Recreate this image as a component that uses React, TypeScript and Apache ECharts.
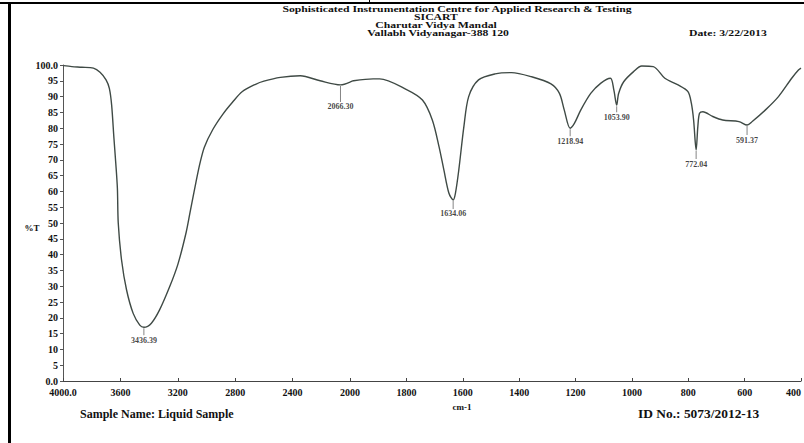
import React, { useEffect, useRef } from "react";
import * as echarts from "echarts";

// Spectrum (wavenumber cm-1 -> %T)
const wavenumbers = [
  3996, 3938, 3869, 3788, 3742, 3700, 3677, 3661, 3645, 3633, 3621, 3615, 3592, 3557, 3511, 3465, 3436,
  3384, 3327, 3257, 3199, 3142, 3114, 3073, 3045, 3015, 2957, 2888, 2819, 2750, 2658, 2600, 2485, 2346, 2208,
  2066, 2000, 1988, 1918, 1895, 1801, 1743, 1708, 1684, 1667, 1649, 1634, 1626, 1614, 1596, 1579, 1544,
  1485, 1427, 1357, 1287, 1257, 1240, 1219, 1204, 1181, 1146, 1111, 1076, 1064, 1054, 1047, 1029, 994,
  965, 924, 883, 836, 801, 789, 781, 772, 766, 760, 748, 713, 678, 620, 591, 573, 526, 480, 433, 409, 400,
];
const transmittance = [
  99.8, 99.5, 99.3, 99.0, 97.7, 95.3, 92.6, 87.3, 76.8, 69.4, 61, 50, 38.3, 28.8, 21.4, 17.7, 17.0,
  18.3, 22.5, 29.8, 37, 47, 53.5, 63, 69, 74, 79.5, 84.3, 88.2, 91.6, 93.9, 94.9, 96.1, 96.6, 95.0,
  93.7, 94.6, 95.0, 95.6, 95.6, 92.3, 88.9, 82.6, 74.1, 66.8, 59.4, 57.3, 59.4, 66.8, 80.5, 90, 95.3,
  97.2, 97.6, 96.3, 94, 91, 85.8, 80, 81.5, 85.8, 91, 94.2, 95.8, 92.1, 87.3, 91, 94.7, 97.9,
  99.7, 99.5, 95.8, 93.7, 91.6, 87.9, 82.6, 73.1, 80.5, 84.7, 85.2, 83.7, 82.6, 82.1, 81, 82.1, 85.8, 90, 95.8, 98.4, 99,
];

const peakWavenumbers = [3436.39, 2066.3, 1634.06, 1218.94, 1053.9, 772.04, 591.37];
const peakTransmittance = [17.0, 93.7, 57.3, 80.0, 87.3, 73.1, 81.0];
const peakTickLength = [7, 16, 8, 7, 6, 8, 9];

const titleLines = [
  "Sophisticated Instrumentation Centre for Applied Research & Testing",
  "SICART",
  "Charutar Vidya Mandal",
  "Vallabh Vidyanagar-388 120",
];
const dateText = "Date: 3/22/2013";
const sampleText = "Sample Name: Liquid Sample";
const idText = "ID No.: 5073/2012-13";

const FONT = "'Liberation Serif', 'Times New Roman', serif";
const INK = "#111";
const CURVE = "#3f4a45";

export default function App() {
  const ref = useRef<HTMLDivElement>(null);

  useEffect(() => {
    if (!ref.current) return;
    const chart = echarts.init(ref.current, undefined, { renderer: "svg" });

    const pts = wavenumbers.map((w, i) => [w, transmittance[i]]);
    const high = pts.filter((p) => p[0] >= 2000);
    const low = pts.filter((p) => p[0] <= 2000);

    const labelStyle = {
      show: true,
      position: "bottom",
      distance: 1,
      fontFamily: FONT,
      fontWeight: "bold",
      fontSize: 8,
      color: INK,
    };

    const peakItems = (inHigh: boolean) =>
      peakWavenumbers
        .map((w, i) => ({ w, i }))
        .filter(({ w }) => (inHigh ? w > 2000 : w <= 2000))
        .map(({ w, i }) => ({
          value: [w, peakTransmittance[i]],
          symbolSize: [1, peakTickLength[i]],
          symbolOffset: [0, peakTickLength[i] / 2 + 1],
          label: { ...labelStyle, formatter: w.toFixed(2) },
        }));

    const peakSeries = (idx: number, inHigh: boolean) => ({
      type: "scatter",
      xAxisIndex: idx,
      yAxisIndex: idx,
      symbol: "rect",
      itemStyle: { color: "#666" },
      label: labelStyle,
      data: peakItems(inHigh),
      z: 3,
    });

    const axisLabelStyle = {
      fontFamily: FONT,
      fontWeight: "bold" as const,
      fontSize: 10,
      color: INK,
    };

    const graphic: any[] = [
      // frame
      { type: "rect", shape: { x: 0, y: 2, width: 804, height: 2 }, style: { fill: "#000" } },
      { type: "rect", shape: { x: 8, y: 2, width: 3, height: 441 }, style: { fill: "#000" } },
      { type: "rect", shape: { x: 369, y: 0, width: 1, height: 3 }, style: { fill: "#000" } },
    ];
    const titleY = [9, 17, 25, 33];
    const titleX = [457, 436, 436, 438];
    titleLines.forEach((t, i) => {
      graphic.push({
        type: "text",
        x: titleX[i],
        y: titleY[i],
        scaleX: 1.02,
        scaleY: 0.72,
        style: {
          text: t,
          fontFamily: FONT,
          fontWeight: "bold",
          fontSize: 11.5,
          fill: INK,
          textAlign: "center",
          textVerticalAlign: "middle",
        },
      });
    });
    graphic.push(
      {
        type: "text",
        x: 689,
        y: 33,
        scaleX: 1.02,
        scaleY: 0.72,
        style: { text: dateText, fontFamily: FONT, fontWeight: "bold", fontSize: 11.5, fill: INK, textVerticalAlign: "middle" },
      },
      {
        type: "text",
        x: 80,
        y: 414,
        style: { text: sampleText, fontFamily: FONT, fontWeight: "bold", fontSize: 12, fill: INK, textVerticalAlign: "middle" },
      },
      {
        type: "text",
        x: 638,
        y: 414,
        scaleX: 1.12,
        style: { text: idText, fontFamily: FONT, fontWeight: "bold", fontSize: 12, fill: INK, textVerticalAlign: "middle" },
      },
      {
        type: "text",
        x: 32,
        y: 228,
        style: { text: "%T", fontFamily: FONT, fontWeight: "bold", fontSize: 9, fill: INK, textAlign: "center", textVerticalAlign: "middle" },
      },
      {
        type: "text",
        x: 462,
        y: 407,
        style: { text: "cm-1", fontFamily: FONT, fontWeight: "bold", fontSize: 9, fill: INK, textAlign: "center", textVerticalAlign: "middle" },
      }
    );

    const option: any = {
      animation: false,
      backgroundColor: "#fff",
      grid: [
        { left: 63, top: 65, width: 287, height: 316 },
        { left: 350, top: 65, width: 454, height: 316 },
      ],
      xAxis: [
        {
          type: "value",
          gridIndex: 0,
          min: 2000,
          max: 4000,
          interval: 400,
          inverse: true,
          splitLine: { show: false },
          axisLine: { lineStyle: { color: "#444", width: 1 } },
          axisTick: { inside: true, length: 3, lineStyle: { color: "#444" } },
          axisLabel: {
            ...axisLabelStyle,
            margin: 6,
            formatter: (v: number) => (v === 4000 ? "4000.0" : String(v)),
          },
        },
        {
          type: "value",
          gridIndex: 1,
          min: 400,
          max: 2000,
          interval: 200,
          inverse: true,
          splitLine: { show: false },
          axisLine: { lineStyle: { color: "#444", width: 1 } },
          axisTick: { inside: true, length: 3, lineStyle: { color: "#444" } },
          axisLabel: {
            ...axisLabelStyle,
            margin: 6,
            showMaxLabel: false,
            alignMinLabel: "right",
            formatter: (v: number) => String(v),
          },
        },
      ],
      yAxis: [
        {
          type: "value",
          gridIndex: 0,
          min: 0,
          max: 100,
          interval: 5,
          splitLine: { show: false },
          axisLine: { show: true, lineStyle: { color: "#555", width: 1 } },
          axisTick: { show: true, length: 3, lineStyle: { color: "#555" } },
          axisLabel: {
            ...axisLabelStyle,
            margin: 5,
            formatter: (v: number) => (v === 100 ? "100.0" : v === 0 ? "0.0" : String(v)),
          },
        },
        {
          type: "value",
          gridIndex: 1,
          min: 0,
          max: 100,
          interval: 5,
          show: false,
        },
      ],
      series: [
        {
          type: "line",
          xAxisIndex: 0,
          yAxisIndex: 0,
          data: high,
          showSymbol: false,
          smooth: 0.3,
          lineStyle: { color: CURVE, width: 1.4 },
          z: 2,
        },
        {
          type: "line",
          xAxisIndex: 1,
          yAxisIndex: 1,
          data: low,
          showSymbol: false,
          smooth: 0.3,
          lineStyle: { color: CURVE, width: 1.4 },
          z: 2,
        },
        peakSeries(0, true),
        peakSeries(1, false),
      ],
      graphic,
    };

    chart.setOption(option);
    return () => chart.dispose();
  }, []);

  return (
    <div style={{ position: "fixed", left: 0, top: 0, width: 804, height: 443, overflow: "hidden", background: "#fff" }}>
      <div ref={ref} style={{ width: 804, height: 443 }} />
    </div>
  );
}
